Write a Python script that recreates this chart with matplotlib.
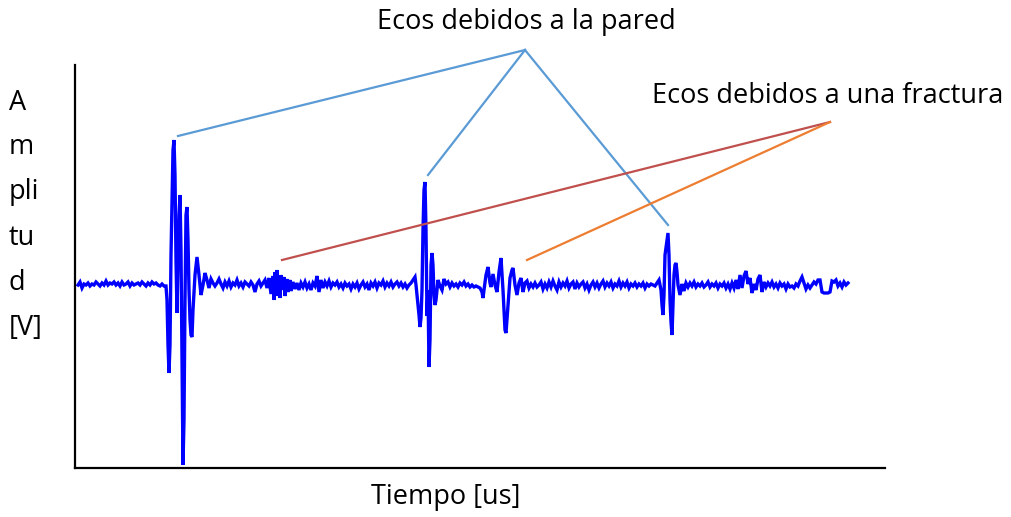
import numpy as np
import matplotlib.pyplot as plt

# Señal de eco ultrasónico: tiempo [us] y amplitud [V]
tiempo = [
    3, 5, 7, 9, 11, 13, 15, 17, 19, 21, 23, 25, 27, 29, 31, 33, 35, 37, 39, 41,
    43, 45, 47, 49, 51, 53, 55, 57, 59, 61, 63, 65, 67, 69, 71, 73, 75, 77, 79, 81,
    83, 85, 87, 89,
    # primer eco de pared
    91, 92, 93, 94, 95, 96, 97, 98, 99, 100, 101, 102, 103, 104, 105, 106, 107, 108,
    109, 110, 111, 112, 113, 114, 115, 116, 117, 118, 120, 122, 124, 126, 128, 130,
    132, 134, 136, 138, 140,
    142, 144, 146, 148, 150, 152, 154, 156, 158, 160, 162, 164, 166, 168, 170, 172,
    174, 176, 178, 180, 182, 184, 186, 188, 190,
    # eco de fractura 1
    192, 194, 196, 198, 199, 200, 201, 202, 203, 204, 205, 206, 207, 209, 210, 212,
    213, 215, 216, 218, 220, 222, 224,
    226, 228, 230, 232, 234, 236, 238, 240, 242, 244, 246, 248, 250, 252, 254, 256,
    258, 260, 262, 264, 266, 268, 270, 272, 274, 276, 278, 280, 282, 284, 286, 288,
    290, 292, 294, 296, 298, 300, 302, 304, 306, 308, 310, 312, 314, 316, 318, 320,
    322, 324, 326, 328, 330, 332, 334,
    # segundo eco de pared
    336, 338, 340, 341, 342, 344, 345, 346, 347, 348, 349, 350, 351, 352, 353, 354,
    355, 356, 357, 358, 359, 360, 361, 363, 365, 367, 369, 371,
    373, 375, 377, 379, 381, 383, 385, 387, 389, 391, 393, 395, 397, 399, 401, 403,
    405,
    # eco de fractura 2
    407, 408, 409, 411, 413, 415, 416, 418, 420, 422, 424, 426, 428, 430, 431, 433,
    435, 437, 438, 440, 442, 444, 446, 448, 450, 452, 454,
    456, 458, 460, 462, 464, 466, 468, 470, 472, 474, 476, 478, 480, 482, 484, 486,
    488, 490, 492, 494, 496, 498, 500, 502, 504, 506, 508, 510, 512, 514, 516, 518,
    520, 522, 524, 526, 528, 530, 532, 534, 536, 538, 540, 542, 544, 546, 548, 550,
    552, 554, 556, 558, 560, 562, 564, 566, 568, 570, 572, 574, 576, 578,
    # tercer eco de pared
    580, 582, 584, 586, 587, 588, 589, 590, 592, 593, 594, 595, 596, 597, 598, 599,
    600, 601, 602, 603, 605, 607, 609, 611,
    613, 615, 617, 619, 621, 623, 625, 627, 629, 631, 633, 635, 637, 639, 641, 643,
    645, 647, 649, 651, 653, 655, 657, 659, 661, 663, 665, 667, 669, 671, 673, 675,
    677, 679, 681, 683, 685, 687, 689, 691, 693, 695, 697, 699, 701, 703, 705, 707,
    709, 711, 713, 715, 717, 719, 721, 723, 725, 727, 729, 731, 733, 735, 737, 739,
    741, 743, 745, 747, 749, 751, 753, 755, 757, 759, 761, 763, 765, 767, 769, 771,
    773,
]

amplitud = [
    0.00, 0.03, -0.03, 0.01, 0.00, 0.02, -0.01, 0.01, 0.00, 0.03, 0.01, -0.01, 0.02,
    0.00, 0.04, 0.00, 0.02, 0.01, 0.03, 0.00, 0.02, -0.01, 0.03, 0.00, 0.01, 0.03,
    -0.01, 0.02, 0.00, 0.01, 0.02, 0.00, 0.03, 0.01, -0.01, 0.02, 0.00, 0.03, 0.01,
    0.02, 0.00, -0.01, 0.01, -0.01,
    -0.01, -0.15, -0.60, -0.88, -0.60, 0.30, 0.85, 1.35, 1.45, 1.10, 0.25, -0.28,
    0.25, 0.70, 0.90, 0.35, -0.75, -1.80, -1.35, -0.15, 0.70, 0.78, 0.45, -0.05,
    -0.35, -0.50, -0.52, -0.25, 0.10, 0.28, 0.10, -0.10, 0.00, 0.12, 0.05, -0.03,
    0.06, 0.02, -0.01,
    0.02, 0.06, 0.01, -0.03, 0.03, -0.01, 0.04, -0.02, 0.02, 0.00, 0.05, -0.01,
    0.02, -0.02, 0.03, 0.01, -0.01, 0.03, 0.00, -0.07, 0.01, 0.04, -0.01, 0.02, 0.05,
    -0.03, 0.07, -0.09, 0.09, -0.15, 0.13, -0.05, 0.15, -0.11, 0.09, -0.13, 0.10,
    -0.05, 0.08, -0.11, 0.06, -0.07, 0.05, -0.06, 0.03, -0.04, 0.02, -0.05,
    0.02, -0.02, 0.03, -0.03, 0.01, -0.05, 0.02, -0.01, 0.09, -0.07, 0.05, -0.03,
    0.03, -0.01, 0.04, -0.02, 0.02, 0.00, 0.03, -0.02, 0.01, -0.03, 0.02, -0.01,
    0.01, -0.04, 0.01, -0.02, 0.02, -0.04, 0.00, 0.03, -0.02, 0.01, -0.05, 0.02,
    -0.01, 0.03, -0.03, 0.02, 0.00, 0.04, -0.02, 0.02, -0.01, 0.03, -0.02, 0.01,
    0.03, -0.01, 0.02, -0.02, 0.01, -0.03, 0.00,
    0.02, 0.05, 0.08, 0.00, -0.10, -0.30, -0.42, -0.33, -0.05, 0.55, 0.95, 1.03,
    0.55, -0.31, -0.05, -0.82, -0.55, 0.20, 0.32, 0.20, -0.10, -0.20, -0.15, 0.05,
    -0.01, -0.05, 0.06, 0.01,
    0.03, -0.02, 0.02, -0.01, 0.01, -0.02, 0.02, 0.00, 0.03, -0.01, 0.01, -0.02,
    0.00, -0.02, -0.01, -0.02, -0.03,
    -0.07, -0.13, -0.05, 0.10, 0.18, 0.02, -0.02, 0.11, 0.00, -0.07, 0.13, 0.27,
    -0.05, -0.45, -0.48, -0.20, 0.07, 0.15, 0.17, 0.00, -0.10, 0.02, 0.07, -0.07,
    0.02, 0.04, -0.03,
    0.01, -0.02, 0.02, -0.02, 0.00, 0.03, -0.04, 0.01, -0.03, 0.03, -0.02, 0.04,
    -0.01, -0.05, 0.03, -0.02, 0.02, -0.01, 0.04, -0.03, 0.01, 0.03, -0.04, 0.02,
    -0.02, 0.01, 0.03, -0.03, 0.01, -0.05, 0.00, 0.03, -0.02, 0.02, -0.03, 0.01,
    0.04, -0.02, 0.02, -0.01, 0.03, -0.03, 0.01, -0.01, 0.04, -0.02, 0.02, -0.01,
    0.03, -0.03, 0.01, -0.01, 0.02, -0.02, 0.01, -0.01, 0.02, -0.03, 0.01, -0.01,
    0.01, 0.00,
    -0.01, 0.02, 0.05, -0.05, -0.20, -0.30, -0.10, 0.30, 0.45, 0.52, 0.30, -0.15,
    -0.37, -0.50, -0.20, 0.10, 0.20, 0.22, 0.13, 0.00, -0.10, 0.01, -0.06, 0.02,
    -0.02, 0.02, -0.01, 0.03, -0.02, 0.01, -0.01, 0.02, -0.02, 0.00, 0.03, -0.02,
    0.01, -0.01, 0.02, -0.03, 0.01, -0.01, 0.02, -0.03, 0.01, -0.04, 0.02, -0.03,
    0.05, -0.04, 0.10, -0.03, 0.09, 0.14, 0.01, 0.07, -0.08, 0.01, -0.05, 0.06,
    0.10, -0.07, 0.03, -0.02, 0.02, -0.01, 0.03, -0.02, 0.01, -0.03, 0.02, -0.01,
    0.01, -0.04, 0.01, -0.02, -0.01, -0.03, 0.01, -0.01, 0.04, 0.08, 0.02, -0.04,
    0.00, -0.03, 0.00, 0.03, 0.01, 0.05, 0.05, -0.07, -0.08, -0.08, -0.08, -0.07,
    0.04, 0.03, 0.05, -0.01, 0.02, -0.02, 0.03, 0.00, 0.02,
]

# ------------
fontName = 'Open Sans'
fontSize = 19.5
colPared = '#5B9BD5'
colFract1 = '#C0504D'
colFract2 = '#ED7D31'

W, H = 1011, 517
fig = plt.figure(figsize=(W / 100, H / 100), dpi=100)
ax = fig.add_axes([75 / W, 1 - 468 / H, 810 / W, 403 / H])

ax.plot(tiempo, amplitud, color='#0000FF', lw=2.4, solid_joinstyle='miter')
ax.set_xlim(0, 810)
ax.set_ylim(-1.83, 2.20)
ax.set_xticks([])
ax.set_yticks([])
for s in ['top', 'right']:
    ax.spines[s].set_visible(False)
for s in ['left', 'bottom']:
    ax.spines[s].set_linewidth(1.6)
    ax.spines[s].set_color('black')


# pixel -> figure fraction
def fx(x):
    return x / W


def fy(y):
    return 1 - y / H


# líneas de anotación (ecos de pared)
for x1, y1 in [(178, 136), (428, 175), (668, 225)]:
    fig.add_artist(plt.Line2D([fx(525), fx(x1)], [fy(50), fy(y1)],
                              color=colPared, lw=1.6))
# ecos de fractura
fig.add_artist(plt.Line2D([fx(830), fx(282)], [fy(122), fy(260)], color=colFract1, lw=1.6))
fig.add_artist(plt.Line2D([fx(830), fx(527)], [fy(122), fy(260)], color=colFract2, lw=1.6))

fig.text(fx(526), fy(22), 'Ecos debidos a la pared', ha='center', va='center',
         fontsize=fontSize, family=fontName)
fig.text(fx(828), fy(96), 'Ecos debidos a una fractura', ha='center', va='center',
         fontsize=fontSize, family=fontName)
fig.text(fx(446), fy(497), 'Tiempo [us]', ha='center', va='center',
         fontsize=fontSize, family=fontName)

# etiqueta vertical partida en renglones
for txt, y in zip(['A', 'm', 'pli', 'tu', 'd', '[V]'], [103, 147, 192, 238, 283, 328]):
    fig.text(fx(9), fy(y), txt, ha='left', va='center', fontsize=fontSize, family=fontName)

fig.savefig('out.png', dpi=100)
